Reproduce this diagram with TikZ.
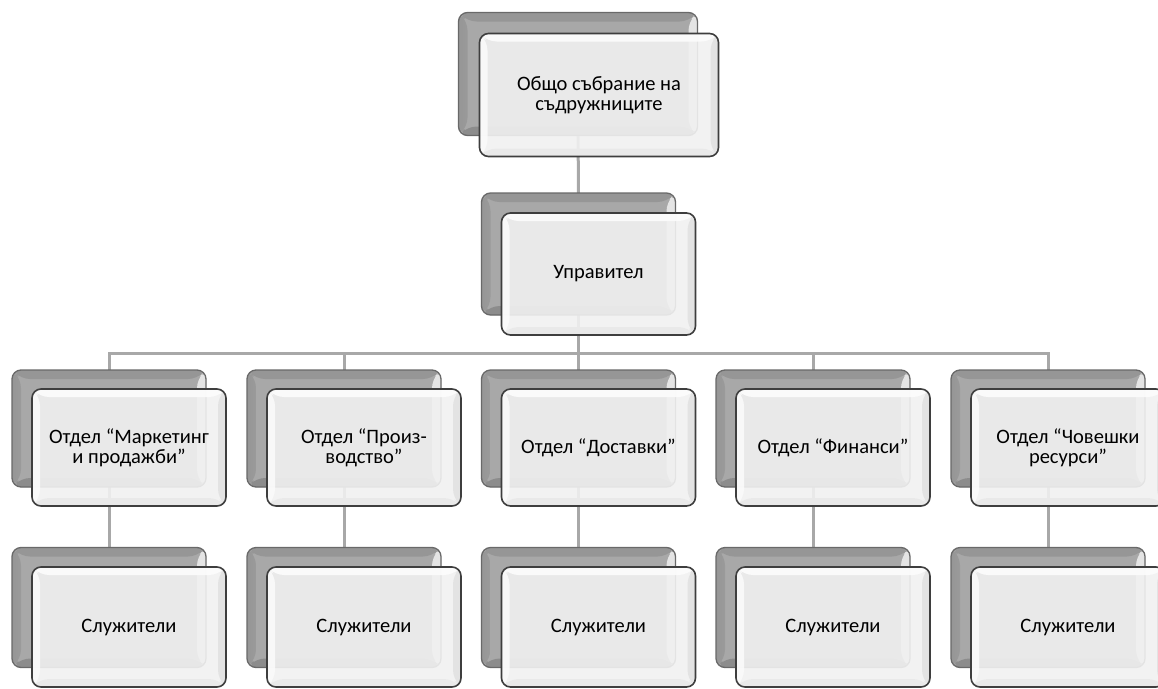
\documentclass[tikz,border=0pt]{standalone}
\usepackage{fontspec}
\setmainfont{Carlito}
\usetikzlibrary{calc}
\pgfdeclarelayer{bg}
\pgfsetlayers{bg,main}
\definecolor{conn}{RGB}{168,168,168}
\definecolor{backline}{RGB}{105,105,105}
\definecolor{backbody}{RGB}{168,168,168}
\definecolor{backtop}{RGB}{150,150,150}
\definecolor{backleftA}{RGB}{150,150,150}
\definecolor{backleftB}{RGB}{245,245,245}
\definecolor{backright}{RGB}{228,228,228}
\definecolor{backbottom}{RGB}{140,140,140}
\definecolor{frontline}{RGB}{62,62,62}
\definecolor{frontbody}{RGB}{241,241,241}
\definecolor{fronttop}{RGB}{252,252,252}
\definecolor{frontleft}{RGB}{250,250,250}
\definecolor{frontright}{RGB}{226,226,226}
\definecolor{frontbottom}{RGB}{233,233,233}
\newcommand{\bevelpaint}[6]{% #1 width, #2 left style, #3 top, #4 right, #5 bottom, #6 opacity
  \path let \p1=(path picture bounding box.south west),
            \p2=(path picture bounding box.north east) in
    [fill opacity=#6, #2] (\x1,\y1) -- (\x1+#1,\y1+#1) -- (\x1+#1,\y2-#1) -- (\x1,\y2) -- cycle;
  \path let \p1=(path picture bounding box.south west),
            \p2=(path picture bounding box.north east) in
    [fill opacity=#6, #3] (\x1,\y2) -- (\x1+#1,\y2-#1) -- (\x2-#1,\y2-#1) -- (\x2,\y2) -- cycle;
  \path let \p1=(path picture bounding box.south west),
            \p2=(path picture bounding box.north east) in
    [fill opacity=#6, #4] (\x2,\y2) -- (\x2-#1,\y2-#1) -- (\x2-#1,\y1+#1) -- (\x2,\y1) -- cycle;
  \path let \p1=(path picture bounding box.south west),
            \p2=(path picture bounding box.north east) in
    [fill opacity=#6, #5] (\x1,\y1) -- (\x1+#1,\y1+#1) -- (\x2-#1,\y1+#1) -- (\x2,\y1) -- cycle;
}
\tikzset{
  backbox/.style={rectangle, rounded corners=9pt, draw=backline, line width=1.3pt,
    fill=backbody, inner sep=0pt,
    path picture={\bevelpaint{9pt}{left color=backleftA,right color=backleftB}{fill=backtop}{fill=backright}{fill=backbottom}{1}}},
  frontbox/.style={rectangle, rounded corners=9pt, draw=frontline, line width=1.6pt,
    fill=frontbody, fill opacity=0.9, text opacity=1, inner sep=0pt, align=center,
    font=\fontsize{20.5pt}{20pt}\selectfont,
    path picture={\bevelpaint{8pt}{fill=frontleft}{fill=fronttop}{fill=frontright}{fill=frontbottom}{0.9}}},
  connector/.style={draw=conn, line width=3pt},
  topsize/.style={minimum width=239pt, minimum height=123pt},
  mgrsize/.style={minimum width=194pt, minimum height=122pt},
  depsize/.style={minimum width=194pt, minimum height=117pt},
  staffsize/.style={minimum width=194pt, minimum height=120pt},
}
\begin{document}
\begin{tikzpicture}[x=1pt,y=-1pt]
\useasboundingbox (0,0) rectangle (1158,688);
% back boxes
\node[backbox, topsize] (b-top) at (578,74) {};
\node[backbox, mgrsize] (b-mgr) at (578.5,254) {};
\foreach \i/\x in {1/109,2/344,3/578.5,4/813,5/1048}{
  \node[backbox, depsize] (b-d\i) at (\x,428.5) {};
  \node[backbox, staffsize] (b-s\i) at (\x,607.5) {};
}
% front boxes
\node[frontbox, topsize] (top) at ([shift={(21pt,-21pt)}]b-top.center) {Общо събрание на\\съдружниците};
\node[frontbox, mgrsize] (mgr) at ([shift={(20pt,-20pt)}]b-mgr.center) {Управител};
\node[frontbox, depsize] (d1) at ([shift={(20pt,-19pt)}]b-d1.center) {Отдел “Маркетинг\\и продажби”};
\node[frontbox, depsize] (d2) at ([shift={(20pt,-19pt)}]b-d2.center) {Отдел “Произ-\\водство”};
\node[frontbox, depsize] (d3) at ([shift={(20pt,-19pt)}]b-d3.center) {Отдел “Доставки”};
\node[frontbox, depsize] (d4) at ([shift={(20pt,-19pt)}]b-d4.center) {Отдел “Финанси”};
\node[frontbox, depsize] (d5) at ([shift={(20pt,-19pt)}]b-d5.center) {Отдел “Човешки\\ресурси”};
\foreach \i in {1,...,5}{
  \node[frontbox, staffsize] (s\i) at ([shift={(20pt,-19.5pt)}]b-s\i.center) {Служители};
}
% connectors
\coordinate (bar) at (578.5,353);
\begin{pgfonlayer}{bg}
  \draw[connector] (b-top.center) -- (b-mgr.center);
  \draw[connector] (b-mgr.center) -- (bar);
  \draw[connector] (b-d1.center) |- (bar) -| (b-d5.center);
  \foreach \i in {2,3,4}{
    \draw[connector] (bar -| b-d\i.center) -- (b-d\i.center);
  }
  \foreach \i in {1,...,5}{
    \draw[connector] (b-d\i.center) -- (b-s\i.center);
  }
\end{pgfonlayer}
\end{tikzpicture}
\end{document}
